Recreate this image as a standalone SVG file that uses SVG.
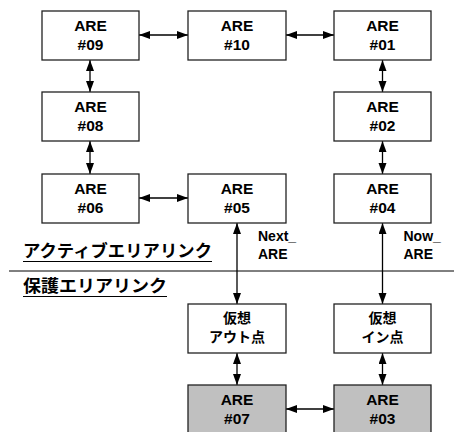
<svg xmlns="http://www.w3.org/2000/svg" width="454" height="432" viewBox="0 0 454 432">
<style>
.box{fill:#fff;stroke:#222;stroke-width:1.3}
.gray{fill:#c0c0c0}
.t{font-family:"Liberation Sans","Noto Sans CJK JP",sans-serif;font-weight:bold;font-size:15.5px;fill:#000;text-anchor:middle}
.j{font-family:"Noto Sans CJK JP","Liberation Sans",sans-serif;font-weight:bold;font-size:14px;fill:#000;text-anchor:middle}
.lbl{font-family:"Liberation Sans",sans-serif;font-weight:bold;font-size:14px;fill:#000}
.big{font-family:"Noto Sans CJK JP",sans-serif;font-weight:bold;font-size:17px;fill:#000}
.c{stroke:#000;stroke-width:1.3;fill:none;marker-start:url(#ah);marker-end:url(#ah)}
</style>
<defs>
<marker id="ah" markerUnits="userSpaceOnUse" markerWidth="12" markerHeight="9" refX="11" refY="4" orient="auto-start-reverse">
<path d="M0,0 L11,4 L0,8 z" fill="#000"/>
</marker>
</defs>
<g id="connectors">
<line class="c" x1="139" y1="35" x2="188" y2="35"/>
<line class="c" x1="286" y1="35" x2="334" y2="35"/>
<line class="c" x1="90" y1="60" x2="90" y2="92"/>
<line class="c" x1="90" y1="141" x2="90" y2="174"/>
<line class="c" x1="382.5" y1="60" x2="382.5" y2="92"/>
<line class="c" x1="382.5" y1="141" x2="382.5" y2="174"/>
<line class="c" x1="139" y1="198" x2="188" y2="198"/>
<line class="c" x1="237" y1="223" x2="237" y2="304"/>
<line class="c" x1="382.5" y1="223" x2="382.5" y2="304"/>
<line class="c" x1="237" y1="353" x2="237" y2="385"/>
<line class="c" x1="382.5" y1="353" x2="382.5" y2="385"/>
<line class="c" x1="286" y1="409" x2="334" y2="409"/>
</g>
<g id="n09"><rect class="box" x="42" y="11" width="97" height="49"/><text class="t" x="90.5" y="31">ARE</text><text class="t" x="90.5" y="50">#09</text></g>
<g id="n10"><rect class="box" x="188" y="11" width="98" height="49"/><text class="t" x="237" y="31">ARE</text><text class="t" x="237" y="50">#10</text></g>
<g id="n01"><rect class="box" x="334" y="11" width="97" height="49"/><text class="t" x="382.5" y="31">ARE</text><text class="t" x="382.5" y="50">#01</text></g>
<g id="n08"><rect class="box" x="42" y="92" width="97" height="49"/><text class="t" x="90.5" y="112">ARE</text><text class="t" x="90.5" y="131">#08</text></g>
<g id="n02"><rect class="box" x="334" y="92" width="97" height="49"/><text class="t" x="382.5" y="112">ARE</text><text class="t" x="382.5" y="131">#02</text></g>
<g id="n06"><rect class="box" x="42" y="174" width="97" height="49"/><text class="t" x="90.5" y="194">ARE</text><text class="t" x="90.5" y="213">#06</text></g>
<g id="n05"><rect class="box" x="188" y="174" width="98" height="49"/><text class="t" x="237" y="194">ARE</text><text class="t" x="237" y="213">#05</text></g>
<g id="n04"><rect class="box" x="334" y="174" width="97" height="49"/><text class="t" x="382.5" y="194">ARE</text><text class="t" x="382.5" y="213">#04</text></g>
<g id="vout"><rect class="box" x="188" y="304" width="98" height="49"/><text class="j" x="237" y="323">仮想</text><text class="j" x="237" y="341.5">アウト点</text></g>
<g id="vin"><rect class="box" x="334" y="304" width="97" height="49"/><text class="j" x="382.5" y="323">仮想</text><text class="j" x="382.5" y="341.5">イン点</text></g>
<g id="n07"><rect class="box gray" x="188" y="385" width="98" height="50"/><text class="t" x="237" y="405">ARE</text><text class="t" x="237" y="424">#07</text></g>
<g id="n03"><rect class="box gray" x="334" y="385" width="97" height="50"/><text class="t" x="382.5" y="405">ARE</text><text class="t" x="382.5" y="424">#03</text></g>
<g id="labels">
<text class="lbl" x="258" y="241">Next_</text><text class="lbl" x="258" y="259">ARE</text>
<text class="lbl" x="403.5" y="241">Now_</text><text class="lbl" x="403.5" y="259">ARE</text>
<text class="big" x="23" y="257" textLength="189" lengthAdjust="spacingAndGlyphs">アクティブエリアリンク</text>
<line x1="23" y1="261.5" x2="212" y2="261.5" stroke="#000" stroke-width="1.2"/>
<line x1="9" y1="271" x2="454" y2="271" stroke="#000" stroke-width="1"/>
<text class="big" x="23" y="292" textLength="144" lengthAdjust="spacingAndGlyphs">保護エリアリンク</text>
<line x1="23" y1="296.5" x2="167" y2="296.5" stroke="#000" stroke-width="1.2"/>
</g>
</svg>
